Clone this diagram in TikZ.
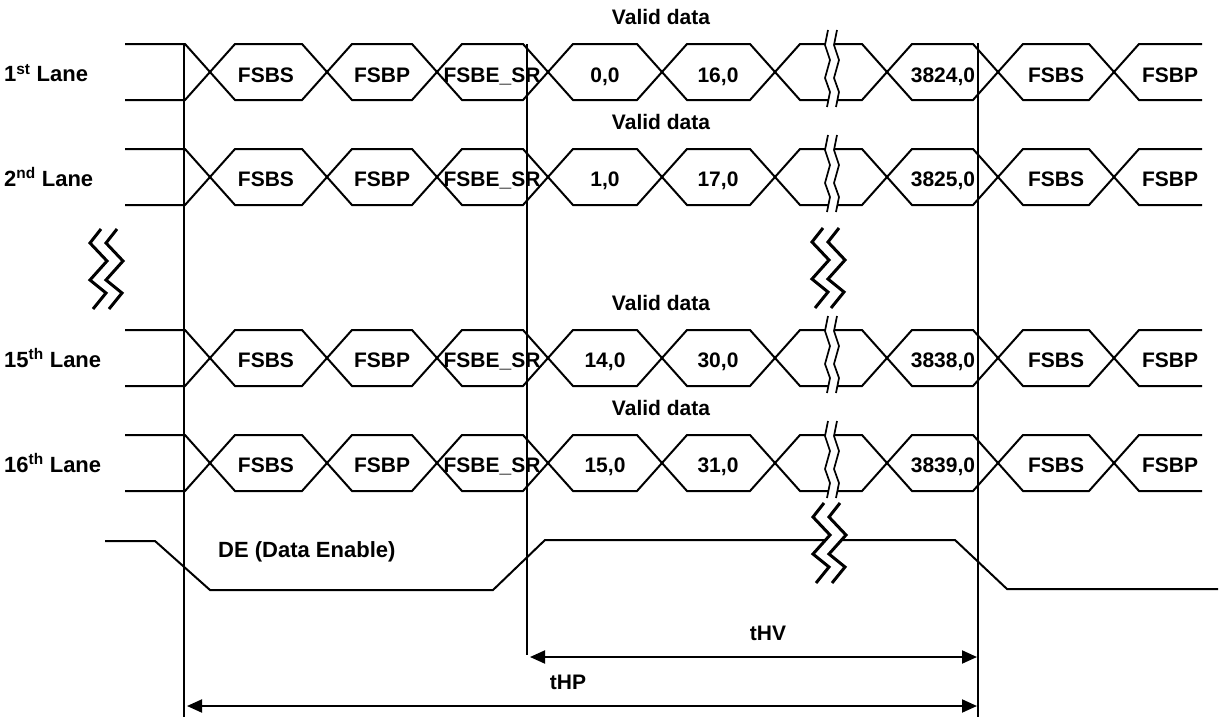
\documentclass[tikz,border=0pt]{standalone}
\usepackage{fontspec}
\setmainfont{Liberation Sans}
\usetikzlibrary{arrows.meta}
\tikzset{
  sig/.style={line width=2pt, line join=miter},
  vline/.style={line width=1.4pt},
  brk/.style={line width=1.7pt},
  bigbrk/.style={line width=3pt},
  lbl/.style={font=\fontsize{21}{21}\selectfont\bfseries, inner sep=0pt, text height=15pt, text depth=0pt},
  biglbl/.style={font=\fontsize{22}{22}\selectfont\bfseries, inner sep=0pt},
  dimline/.style={line width=2pt},
  tip/.tip={Triangle[length=15pt,width=13pt]}
}
\newcommand\lanewave[2]{%
  \draw[sig] (125,#1) -- (185,#1) -- (235,#2) -- (302,#2) -- (352,#1) -- (412,#1) -- (462,#2) -- (523,#2) -- (573,#1) -- (637,#1) -- (687,#2) -- (750,#2) -- (800,#1) -- (862,#1) -- (912,#2) -- (973,#2) -- (1023,#1) -- (1089,#1) -- (1139,#2) -- (1202,#2);
}
\newcommand\lnbrk[1]{%
  \fill[white] (828,#1-14) -- (825,#1+1) -- (830,#1+16) -- (825,#1+34) -- (830,#1+48) -- (827,#1+63) -- (836,#1+63) -- (839,#1+48) -- (834,#1+34) -- (839,#1+16) -- (834,#1+1) -- (837,#1-14) -- cycle;
  \draw[brk] (828,#1-14) -- (825,#1+1) -- (830,#1+16) -- (825,#1+34) -- (830,#1+48) -- (827,#1+63);
  \draw[brk] (837,#1-14) -- (834,#1+1) -- (839,#1+16) -- (834,#1+34) -- (839,#1+48) -- (836,#1+63);
}
\newcommand\zigbrk[2]{%
  \fill[white] (#1+12,#2) -- (#1+1,#2+14) -- (#1+18,#2+32) -- (#1+1,#2+51) -- (#1+17,#2+64) -- (#1+4,#2+80) -- (#1+20,#2+80) -- (#1+33,#2+64) -- (#1+17,#2+51) -- (#1+34,#2+32) -- (#1+17,#2+14) -- (#1+28,#2) -- cycle;
  \draw[bigbrk] (#1+12,#2) -- (#1+1,#2+14) -- (#1+18,#2+32) -- (#1+1,#2+51) -- (#1+17,#2+64) -- (#1+4,#2+80);
  \draw[bigbrk] (#1+28,#2) -- (#1+17,#2+14) -- (#1+34,#2+32) -- (#1+17,#2+51) -- (#1+33,#2+64) -- (#1+20,#2+80);
}
\newcommand\lanetext[7]{%
  \node[lbl] at (266,#1) {FSBS};
  \node[lbl] at (382,#1) {FSBP};
  \node[lbl] at (492,#1) {FSBE\_SR};
  \node[lbl] at (605,#1) {#2};
  \node[lbl] at (718,#1) {#3};
  \node[lbl] at (943,#1) {#4};
  \node[lbl] at (1056,#1) {FSBS};
  \node[lbl] at (1170,#1) {FSBP};
  \node[biglbl, anchor=west] at (4,#1-1.5) {#5\textsuperscript{#6} Lane};
  \node[lbl] at (661,#7) {Valid data};
}
\begin{document}
\begin{tikzpicture}[x=1pt,y=-1pt]
\useasboundingbox (0,0) rectangle (1229,720);
\fill[white] (0,0) rectangle (1229,720);
% vertical reference lines
\coordinate (v1t) at (184,44); \coordinate (v1b) at (184,717);
\coordinate (v2t) at (527,44); \coordinate (v2b) at (527,655);
\coordinate (v3t) at (978,43); \coordinate (v3b) at (978,717);
\draw[vline] (v1t) -- (v1b);
\draw[vline] (v2t) -- (v2b);
\draw[vline] (v3t) -- (v3b);
% lanes
\lanewave{44}{100}\lanewave{100}{44}
\lanewave{149}{205}\lanewave{205}{149}
\lanewave{330}{386}\lanewave{386}{330}
\lanewave{435}{491}\lanewave{491}{435}
\lnbrk{44}\lnbrk{149}\lnbrk{330}\lnbrk{435}
% DE
\draw[sig] (105,541) -- (155,541) -- (210,590) -- (493,590) -- (545,540) -- (955,540) -- (1007,589) -- (1218,589);
% break symbols
\zigbrk{89}{229}
\zigbrk{811}{228}
\zigbrk{812}{503}
% text
\lanetext{74.5}{0,0}{16,0}{3824,0}{1}{st}{17}
\lanetext{178.5}{1,0}{17,0}{3825,0}{2}{nd}{122}
\lanetext{359.5}{14,0}{30,0}{3838,0}{15}{th}{303}
\lanetext{464.5}{15,0}{31,0}{3839,0}{16}{th}{408}
\node[biglbl, anchor=west] (de) at (218,552) {DE (Data Enable)};
% dimensions
\coordinate (hva) at (530,657); \coordinate (hvb) at (977,657);
\coordinate (hpa) at (187,706); \coordinate (hpb) at (977,706);
\draw[dimline, tip-tip] (hva) -- (hvb);
\draw[dimline, tip-tip] (hpa) -- (hpb);
\node[lbl] (thv) at (768,633) {tHV};
\node[lbl] (thp) at (568,682) {tHP};
\end{tikzpicture}
\end{document}
